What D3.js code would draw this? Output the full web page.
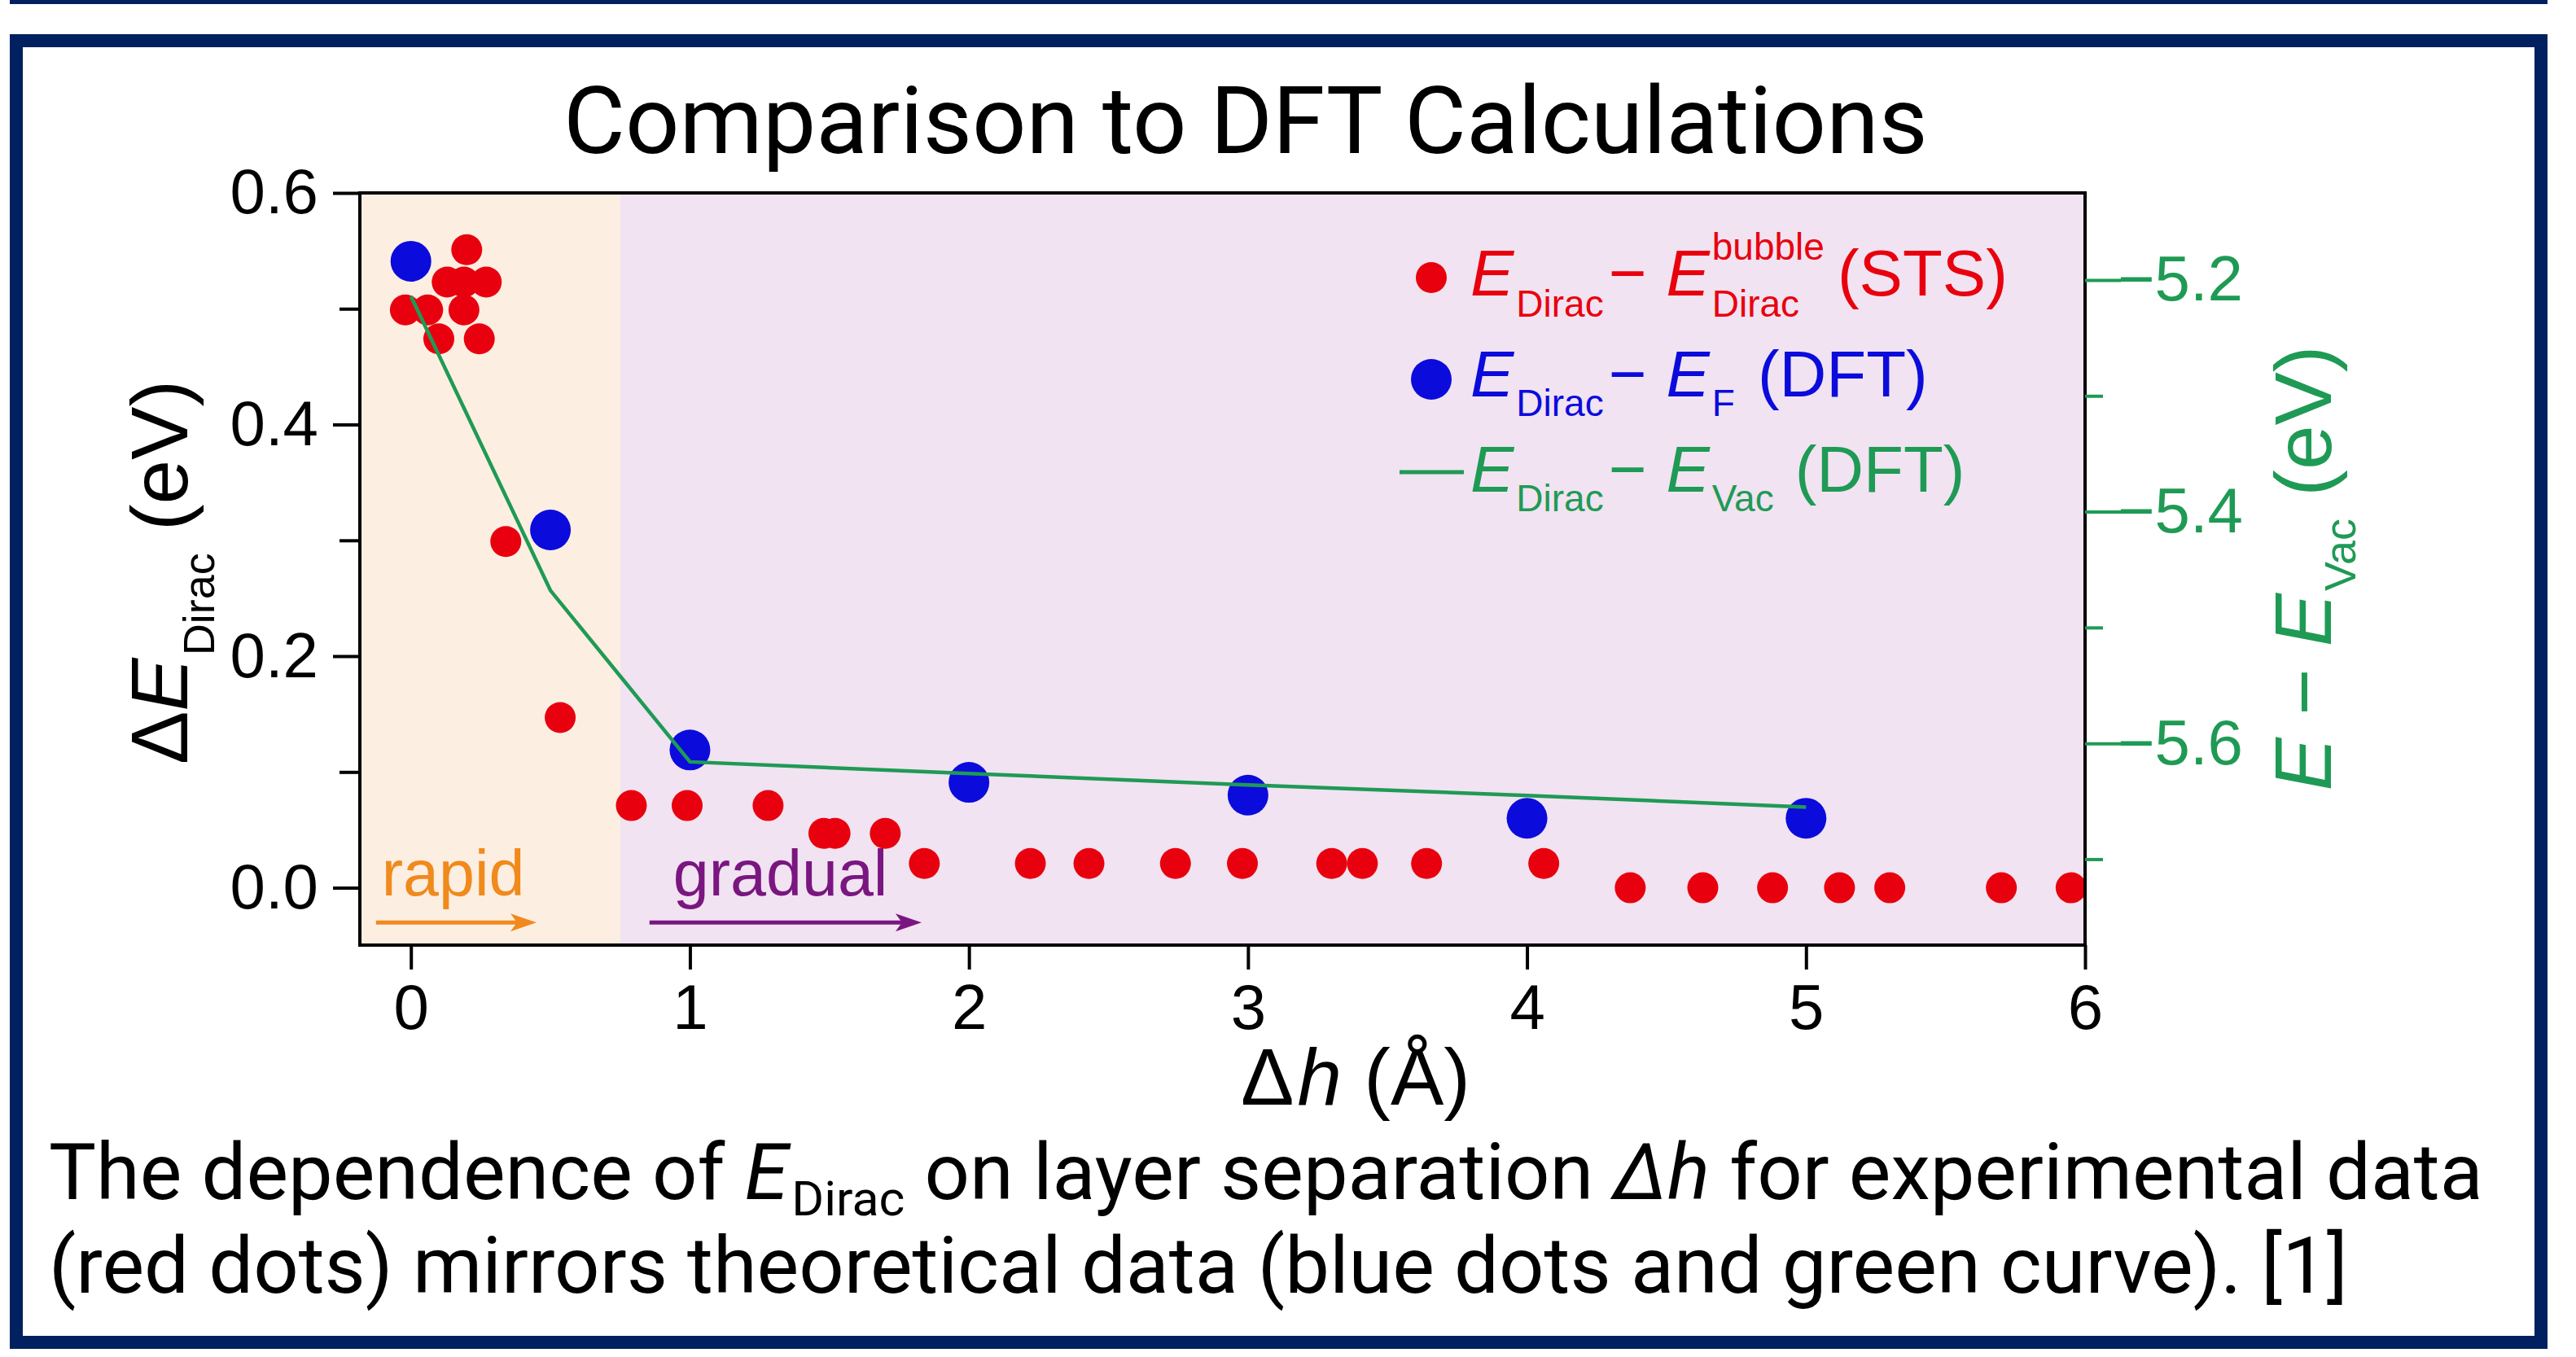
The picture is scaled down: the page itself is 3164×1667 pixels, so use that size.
<!DOCTYPE html>
<html>
<head>
<meta charset="utf-8">
<script src="https://cdn.jsdelivr.net/npm/d3@7"></script>
<style>
  html, body { margin: 0; padding: 0; background: #fff; }
  svg { display: block; }
</style>
</head>
<body>
<svg width="3164" height="1667"></svg>
<script>
// STS measurements: E_Dirac - E_Dirac^bubble (eV) against layer separation dh (A)
const stsDh = [-0.02, 0.06, 0.19, 0.13, 0.19, 0.27, 0.20, 0.10, 0.245,
    0.34, 0.535, 0.79, 0.99, 1.28, 1.48, 1.52, 1.70,
    1.84, 2.22, 2.43, 2.74, 2.98, 3.30, 3.41, 3.64, 4.06,
    4.37, 4.63, 4.88, 5.12, 5.30, 5.70, 5.95];
const stsE = [0.499, 0.499, 0.499, 0.523, 0.523, 0.523, 0.551, 0.474, 0.474,
    0.299, 0.147, 0.071, 0.071, 0.071, 0.047, 0.047, 0.047,
    0.021, 0.021, 0.021, 0.021, 0.021, 0.021, 0.021, 0.021, 0.021,
    0.0, 0.0, 0.0, 0.0, 0.0, 0.0, 0.0];

// DFT: E_Dirac - E_F (left axis) and E_Dirac - E_Vac (right axis)
const dftDh = [0, 0.5, 1, 2, 3, 4, 5];
const dftE = [0.541, 0.309, 0.119, 0.091, 0.080, 0.060, 0.060];
const vacE = [-5.214, -5.468, -5.616, -5.626, -5.636, -5.645, -5.655];

const xTicks = [0, 1, 2, 3, 4, 5, 6];
const yTicks = [0, 0.2, 0.4, 0.6];
const yMinor = [0.1, 0.3, 0.5];
const rTicks = [-5.2, -5.4, -5.6];
const rMinor = [-5.3, -5.5, -5.7];
const rapidEnd = 0.75; // edge between the two shaded regimes

const navy = "#002060",
    red = "#e8000e",
    blue = "#0b0bdc",
    green = "#1f9a55",
    orange = "#f08a1c",
    purple = "#7a1680";
const chartFont = "'Liberation Sans', Arial, sans-serif";
const slideFont = "Roboto, 'Open Sans', sans-serif";

const svg = d3.select("svg");

// slide frame
svg.append("rect").attr("x", 12).attr("y", 0).attr("width", 3117).attr("height", 5).attr("fill", navy);
svg.append("rect").attr("x", 20).attr("y", 50).attr("width", 3101).attr("height", 1599)
    .attr("fill", "none").attr("stroke", navy).attr("stroke-width", 16);

const x = d3.scaleLinear().domain([-0.183, 6]).range([442, 2561]);
const y = d3.scaleLinear().domain([-0.0495, 0.6]).range([1161, 237]);
const yR = d3.scaleLinear().domain([-5.7742, -5.1248]).range([1161, 237]);

const plot = svg.append("g");

plot.append("rect")
    .attr("x", x(-0.183)).attr("y", y(0.6))
    .attr("width", x(rapidEnd) - x(-0.183)).attr("height", y(-0.0495) - y(0.6))
    .attr("fill", "#fdeee2");
plot.append("rect")
    .attr("x", x(rapidEnd)).attr("y", y(0.6))
    .attr("width", x(6) - x(rapidEnd)).attr("height", y(-0.0495) - y(0.6))
    .attr("fill", "#f1e3f1");

svg.append("clipPath").attr("id", "clip")
    .append("rect")
    .attr("x", x(-0.183)).attr("y", y(0.6))
    .attr("width", x(6) - x(-0.183)).attr("height", y(-0.0495) - y(0.6));

// annotations
function arrow(x1, x2, yv, color) {
    const yy = y(yv);
    plot.append("line")
        .attr("x1", x(x1)).attr("x2", x(x2) - 20)
        .attr("y1", yy).attr("y2", yy)
        .attr("stroke", color).attr("stroke-width", 5);
    plot.append("path")
        .attr("d", "M" + x(x2) + "," + yy + "L" + (x(x2) - 32) + "," + (yy - 11) +
            "L" + (x(x2) - 24) + "," + yy + "L" + (x(x2) - 32) + "," + (yy + 11) + "Z")
        .attr("fill", color);
}
plot.append("text").attr("x", x(-0.105)).attr("y", y(-0.0067))
    .attr("font-family", chartFont).attr("font-size", 79).attr("fill", orange).text("rapid");
plot.append("text").attr("x", x(0.94)).attr("y", y(-0.0067))
    .attr("font-family", chartFont).attr("font-size", 79).attr("fill", purple).text("gradual");
arrow(-0.125, 0.45, -0.030, orange);
arrow(0.855, 1.83, -0.030, purple);

const marks = plot.append("g").attr("clip-path", "url(#clip)");

marks.selectAll(".dft")
    .data(dftDh)
    .enter().append("circle")
    .attr("class", "dft")
    .attr("cx", function(d) { return x(d); })
    .attr("cy", function(d, i) { return y(dftE[i]); })
    .attr("r", 25)
    .attr("fill", blue);

marks.selectAll(".sts")
    .data(stsDh)
    .enter().append("circle")
    .attr("class", "sts")
    .attr("cx", function(d) { return x(d); })
    .attr("cy", function(d, i) { return y(stsE[i]); })
    .attr("r", 19)
    .attr("fill", red);

const vacLine = d3.line()
    .x(function(d) { return x(d); })
    .y(function(d, i) { return yR(vacE[i]); });

marks.append("path")
    .datum(dftDh)
    .attr("d", vacLine)
    .attr("fill", "none")
    .attr("stroke", green)
    .attr("stroke-width", 4.5);

// frame
plot.append("rect")
    .attr("x", x(-0.183)).attr("y", y(0.6))
    .attr("width", x(6) - x(-0.183)).attr("height", y(-0.0495) - y(0.6))
    .attr("fill", "none").attr("stroke", "#000").attr("stroke-width", 4);

// axes
function styleAxis(g, color) {
    g.select(".domain").remove();
    g.selectAll("line").attr("stroke", color).attr("stroke-width", 4);
    g.selectAll("text").attr("fill", color).attr("font-size", 78).attr("font-family", chartFont);
}

const fmt = d3.format(".1f");

svg.append("g").attr("transform", "translate(" + x(-0.183) + ",0)")
    .call(d3.axisLeft(y).tickValues(yTicks).tickFormat(fmt).tickSize(33).tickPadding(18))
    .call(styleAxis, "#000");
svg.append("g").attr("transform", "translate(" + x(-0.183) + ",0)")
    .call(d3.axisLeft(y).tickValues(yMinor).tickFormat("").tickSize(25))
    .call(styleAxis, "#000");

svg.append("g").attr("transform", "translate(0," + y(-0.0495) + ")")
    .call(d3.axisBottom(x).tickValues(xTicks).tickFormat(d3.format("d")).tickSize(30).tickPadding(18))
    .call(styleAxis, "#000");

svg.append("g").attr("transform", "translate(" + x(6) + ",0)")
    .call(d3.axisRight(yR).tickValues(rTicks).tickFormat(fmt).tickSize(44).tickPadding(-4))
    .call(styleAxis, green);
svg.append("g").attr("transform", "translate(" + x(6) + ",0)")
    .call(d3.axisRight(yR).tickValues(rMinor).tickFormat("").tickSize(22))
    .call(styleAxis, green);

// axis titles
const lt = svg.append("text")
    .attr("transform", "translate(230,703) rotate(-90)")
    .attr("text-anchor", "middle")
    .attr("font-family", chartFont).attr("font-size", 98).attr("fill", "#000");
lt.append("tspan").text("Δ");
lt.append("tspan").attr("font-style", "italic").text("E");
lt.append("tspan").attr("font-size", 54).attr("dy", 33).attr("dx", 3).text("Dirac");
lt.append("tspan").attr("dy", -33).text(" (eV)");

const rt = svg.append("text")
    .attr("transform", "translate(2863,698) rotate(-90)")
    .attr("text-anchor", "middle")
    .attr("font-family", chartFont).attr("font-size", 98).attr("fill", green);
rt.append("tspan").attr("font-style", "italic").text("E");
rt.append("tspan").text(" − ");
rt.append("tspan").attr("font-style", "italic").text("E");
rt.append("tspan").attr("font-size", 54).attr("dy", 30).attr("dx", 3).text("Vac");
rt.append("tspan").attr("dy", -30).text(" (eV)");

const bt = svg.append("text")
    .attr("x", 1665).attr("y", 1357)
    .attr("text-anchor", "middle")
    .attr("font-family", chartFont).attr("font-size", 98).attr("fill", "#000");
bt.append("tspan").text("Δ");
bt.append("tspan").attr("font-style", "italic").attr("dx", 4).text("h");
bt.append("tspan").text(" (Å)");

// legend
const legend = svg.append("g").attr("font-family", chartFont);

function legendRow(x0, base, color, pieces) {
    let cx = x0;
    pieces.forEach(function(p) {
        const group = p.stack || [p];
        let w = 0;
        group.forEach(function(s) {
            const t = legend.append("text")
                .attr("x", cx).attr("y", base + (s.dy || 0))
                .attr("font-size", s.size || 80)
                .attr("font-style", s.it ? "italic" : null)
                .attr("fill", color)
                .text(s.t);
            w = Math.max(w, t.node().getComputedTextLength());
        });
        cx += w + (p.gap || 0);
    });
}

legendRow(1806, 363, red, [
    {t: "E", it: 1, gap: 3},
    {t: "Dirac", size: 46, dy: 26, gap: 6},
    {t: "−", gap: 24},
    {t: "E", it: 1, gap: 3},
    {stack: [{t: "bubble", size: 46, dy: -44}, {t: "Dirac", size: 46, dy: 26}], gap: 16},
    {t: "(STS)"}
]);
legendRow(1806, 487, blue, [
    {t: "E", it: 1, gap: 3},
    {t: "Dirac", size: 46, dy: 24, gap: 6},
    {t: "−", gap: 24},
    {t: "E", it: 1, gap: 3},
    {t: "F", size: 46, dy: 24, gap: 28},
    {t: "(DFT)"}
]);
legendRow(1806, 604, green, [
    {t: "E", it: 1, gap: 3},
    {t: "Dirac", size: 46, dy: 24, gap: 6},
    {t: "−", gap: 24},
    {t: "E", it: 1, gap: 3},
    {t: "Vac", size: 46, dy: 24, gap: 26},
    {t: "(DFT)"}
]);
legend.append("circle").attr("cx", 1758).attr("cy", 341).attr("r", 19).attr("fill", red);
legend.append("circle").attr("cx", 1758).attr("cy", 466).attr("r", 25).attr("fill", blue);
legend.append("line").attr("x1", 1719).attr("x2", 1798).attr("y1", 580).attr("y2", 580)
    .attr("stroke", green).attr("stroke-width", 5);

// title and caption, squeezed to the slide's narrower face
function fitText(sel, x0, base, width) {
    const w = sel.node().getBBox().width;
    sel.attr("transform", "translate(" + x0 + "," + base + ") scale(" + (width / w) + ",1)");
}

const title = svg.append("text")
    .attr("font-family", slideFont).attr("font-size", 115).attr("fill", "#000")
    .text("Comparison to DFT Calculations");
fitText(title, 692, 188, 1676);

const cap1 = svg.append("text")
    .attr("font-family", slideFont).attr("font-size", 96).attr("fill", "#000");
cap1.append("tspan").text("The dependence of ");
cap1.append("tspan").attr("font-style", "italic").text("E");
cap1.append("tspan").attr("font-size", 60).attr("dy", 20).attr("dx", 4).text("Dirac");
cap1.append("tspan").attr("dy", -20).text(" on layer separation ");
cap1.append("tspan").attr("font-style", "italic").text("Δh");
cap1.append("tspan").text(" for experimental data");
fitText(cap1, 60, 1473, 2990);

const cap2 = svg.append("text")
    .attr("font-family", slideFont).attr("font-size", 96).attr("fill", "#000")
    .text("(red dots) mirrors theoretical data (blue dots and green curve). [1]");
fitText(cap2, 60, 1588, 2824);
</script>
</body>
</html>
